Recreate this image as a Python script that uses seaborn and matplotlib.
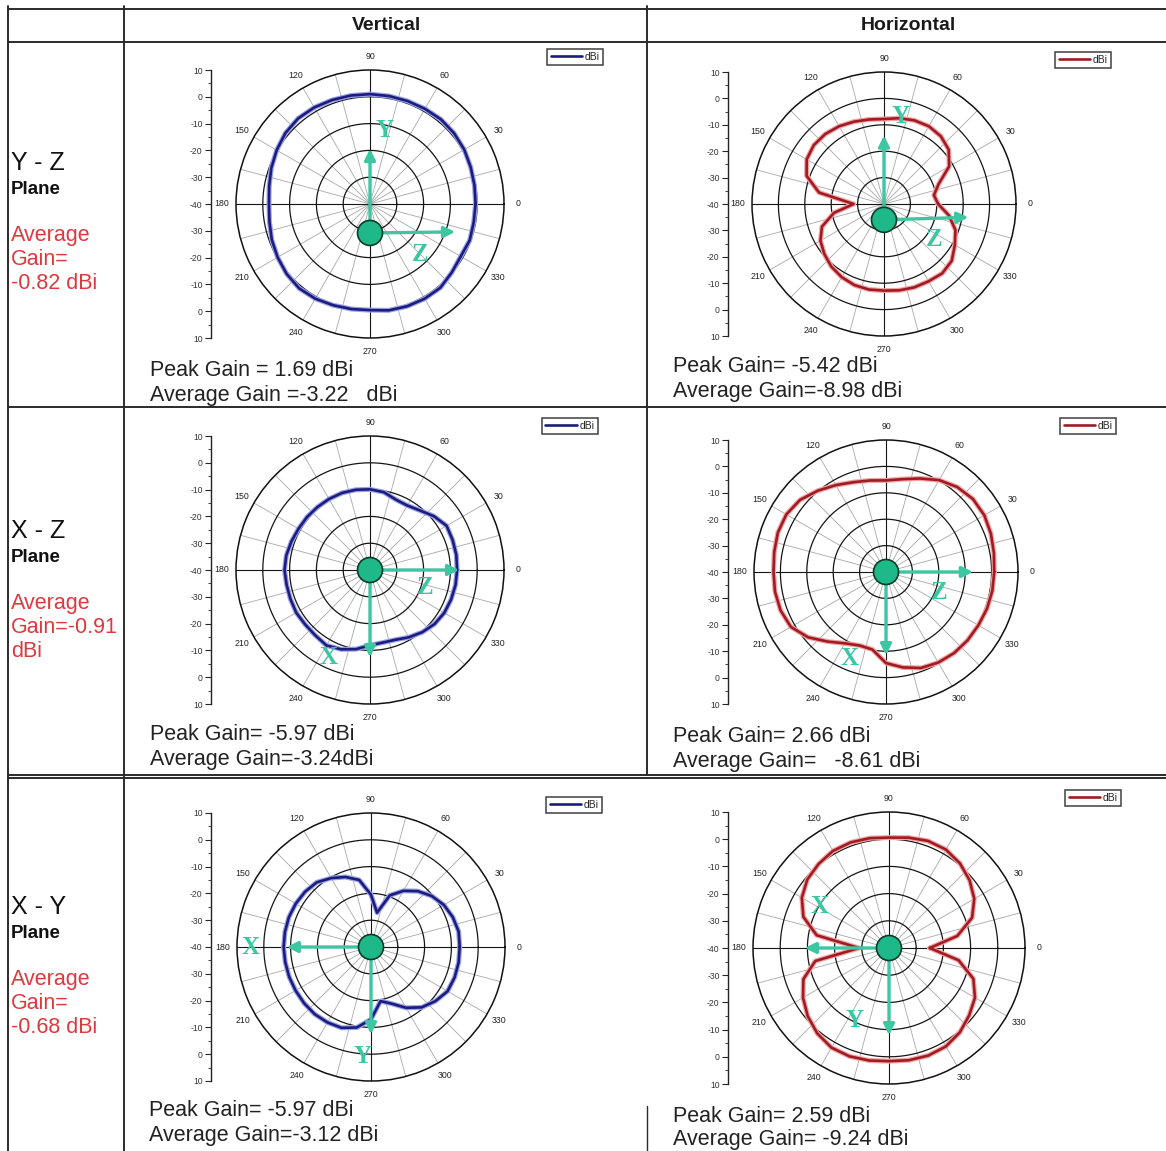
import numpy as np
import pandas as pd
import seaborn as sns
import matplotlib.pyplot as plt
from matplotlib.lines import Line2D
from matplotlib.patches import Circle

# measurement angles (deg), same grid for every pattern
angles = [0, 10, 20, 30, 40, 50, 60, 70, 80, 90, 100, 110,
          120, 130, 140, 150, 160, 170, 180, 190, 200, 210, 220, 230,
          240, 250, 260, 270, 280, 290, 300, 310, 320, 330, 340, 350]

# gain in dBi
yz_vertical = [-0.6, -0.4, 0.0, 0.6, 1.0, 1.2, 1.0, 0.9, 0.9, 1.0, 1.1, 1.3,
               1.6, 1.7, 1.2, 0.2, -0.8, -1.8, -2.3, -1.9, -1.0, -0.2, 0.6, 1.1,
               0.8, 0.2, -0.2, -0.4, 0.3, 0.6, 0.8, 0.8, -0.2, -0.9, -0.4, -0.7]
yz_horizontal = [-19.5, -20.8, -18.0, -11.5, -8.0, -6.5, -6.0, -6.3, -7.0, -7.8, -7.5, -6.8,
                 -6.0, -5.4, -5.3, -6.2, -8.8, -15.0, -28.5, -20.8, -15.0, -12.2, -10.5, -9.0,
                 -8.0, -7.3, -7.1, -7.2, -6.8, -6.4, -6.2, -5.7, -6.5, -9.0, -11.2, -15.0]
xz_vertical = [-7.5, -7.3, -7.2, -7.0, -8.8, -11.0, -12.2, -12.0, -10.5, -9.9, -9.6, -9.4,
               -9.4, -9.4, -9.3, -9.2, -8.8, -8.3, -8.1, -8.4, -8.4, -8.2, -8.4, -8.2,
               -7.5, -8.5, -10.0, -11.9, -12.5, -12.3, -11.0, -9.7, -8.6, -8.0, -7.8, -7.6]
xz_horizontal = [1.0, 1.5, 2.3, 3.0, 3.0, 2.0, 0.2, -2.3, -4.3, -5.3, -4.8, -3.8,
                 -2.0, 0.2, 2.5, 3.6, 3.6, 3.0, 2.6, 2.7, 2.5, 1.6, -1.5, -5.6,
                 -8.8, -10.4, -10.2, -5.5, -3.3, -1.3, -0.4, 0.1, 0.3, 0.4, 0.7, 0.9]
xy_vertical = [-6.9, -6.8, -7.5, -8.6, -10.4, -12.8, -15.8, -19.5, -27.0, -20.5, -14.6, -12.2,
               -10.3, -8.5, -7.9, -7.6, -7.4, -7.4, -7.4, -7.5, -7.5, -7.5, -7.4, -7.3,
               -7.5, -7.9, -9.5, -13.0, -19.5, -17.5, -13.8, -10.6, -8.6, -7.0, -6.8, -6.8]
xy_horizontal = [-25.0, -14.5, -7.5, -3.8, -1.3, 0.6, 1.8, 1.9, 1.2, 0.6, 1.0, 1.3,
                 1.2, 0.3, -0.8, -3.0, -6.5, -13.0, -29.0, -12.5, -6.5, -3.5, -1.0, 1.0,
                 2.3, 2.4, 2.0, 1.6, 1.9, 2.1, 1.8, 0.5, -1.5, -3.5, -7.0, -14.0]

column_titles = ["Vertical", "Horizontal"]
plane_names = ["Y - Z", "X - Z", "X - Y"]
plane_average = ["Average\nGain=\n-0.82 dBi", "Average\nGain=-0.91\ndBi", "Average\nGain=\n-0.68 dBi"]
peak_texts = ["Peak Gain = 1.69 dBi", "Peak Gain= -5.42 dBi",
              "Peak Gain= -5.97 dBi", "Peak Gain= 2.66 dBi",
              "Peak Gain= -5.97 dBi", "Peak Gain= 2.59 dBi"]
avg_texts = ["Average Gain =-3.22   dBi", "Average Gain=-8.98 dBi",
             "Average Gain=-3.24dBi", "Average Gain=   -8.61 dBi",
             "Average Gain=-3.12 dBi", "Average Gain= -9.24 dBi"]
angle_labels = ["0", "30", "60", "90", "120", "150", "180", "210", "240", "270", "300", "330"]

W, H = 1166, 1151
sns.set_theme(style="white")
plt.rcParams['font.family'] = ['Liberation Sans', 'DejaVu Sans']

fig = plt.figure(figsize=(W / 100, H / 100), dpi=100)
fig.patch.set_facecolor('white')


def fx(x):
    return x / W


def fy(y):
    return 1 - y / H


def seg(x0, y0, x1, y1, lw=1.4):
    fig.add_artist(Line2D([fx(x0), fx(x1)], [fy(y0), fy(y1)], color='#2b2b2b', lw=lw))


# table grid
seg(8, 9, W, 9)
seg(8, 42, W, 42)
seg(8, 407, W, 407)
seg(8, 775, W, 775)
seg(8, 778, W, 778)
seg(8, 6, 8, H)
seg(124, 6, 124, H)
seg(647, 6, 647, 775)
seg(647, 1106, 647, H, lw=1.0)

fig.text(fx(386), fy(25), column_titles[0], ha='center', va='center', fontsize=14, fontweight='bold', color='#1a1a1a')
fig.text(fx(908), fy(25), column_titles[1], ha='center', va='center', fontsize=14, fontweight='bold', color='#1a1a1a')

row_name_y = [163, 531, 907]
for i in range(3):
    y0 = row_name_y[i]
    fig.text(fx(11), fy(y0), plane_names[i], ha='left', va='center', fontsize=18, color='#111')
    fig.text(fx(11), fy(y0 + 27), "Plane", ha='left', va='center', fontsize=13.5, fontweight='bold', color='#111')
    fig.text(fx(11), fy(y0 + 75 - 13), plane_average[i], ha='left', va='top', fontsize=15.5,
             color='#dc3a3c', linespacing=1.18)

# per-plot layout: centre (px), radius (px), linear axis x, legend corner, text rows
patterns = [yz_vertical, yz_horizontal, xz_vertical, xz_horizontal, xy_vertical, xy_horizontal]
centres = [(370, 204), (884, 204), (370, 570), (886, 572), (371, 947), (889, 948)]
radii = [134, 132, 134, 132, 134, 136]
scale_x = [211, 728, 211, 728, 211, 728]
legend_corner = [(603, 49), (1111, 52), (598, 418), (1116, 418), (602, 797), (1121, 790)]
text_y = [(370, 395), (366, 392), (735, 760), (736, 762), (1110, 1136), (1117, 1139)]
text_x = [150, 673, 150, 673, 149, 673]

teal = '#3cc6a2'
# axes-fraction positions for the orientation sketch: dot, arrow tips, letters
sketch = [
    dict(dot=(0.5, 0.392), tips=[(0.5, 0.716), (0.828, 0.396)], letters=[('Y', 0.556, 0.776), ('Z', 0.687, 0.31)]),
    dict(dot=(0.5, 0.44), tips=[(0.5, 0.77), (0.83, 0.45)], letters=[('Y', 0.564, 0.83), ('Z', 0.69, 0.367)]),
    dict(dot=(0.5, 0.5), tips=[(0.843, 0.5), (0.5, 0.164)], letters=[('Z', 0.705, 0.433), ('X', 0.347, 0.172)]),
    dict(dot=(0.5, 0.5), tips=[(0.84, 0.5), (0.5, 0.174)], letters=[('Z', 0.70, 0.424), ('X', 0.36, 0.174)]),
    dict(dot=(0.5, 0.5), tips=[(0.175, 0.5), (0.5, 0.164)], letters=[('X', 0.049, 0.5), ('Y', 0.467, 0.09)]),
    dict(dot=(0.5, 0.5), tips=[(0.18, 0.5), (0.5, 0.169)], letters=[('X', 0.243, 0.654), ('Y', 0.375, 0.235)]),
]

ring = np.linspace(0, 2 * np.pi, 361)

for k in range(6):
    cx, cy = centres[k]
    R = radii[k]
    vertical = (k % 2 == 0)
    main_c = '#1c1c7e' if vertical else '#a01c24'
    halo_c = '#9aa2e6' if vertical else '#f3a3a3'

    ax = fig.add_axes([fx(cx - R), fy(cy + R), 2 * R / W, 2 * R / H], projection='polar')
    ax.set_facecolor('white')
    ax.set_theta_zero_location('E')
    ax.grid(False)

    # grid: spokes, rings, main cross
    for a in range(0, 360, 15):
        ax.plot([np.deg2rad(a)] * 2, [-40, 10], color='#a8a8a8', lw=0.6, zorder=1)
    for r in (-30, -20, -10, 0):
        ax.plot(ring, np.full_like(ring, r), color='#151515', lw=0.9, zorder=2)
    for a in (0, 90, 180, 270):
        ax.plot([np.deg2rad(a)] * 2, [-40, 10], color='#151515', lw=0.8, zorder=2)

    g = patterns[k]
    df = pd.DataFrame({'theta': np.deg2rad(angles + [360]), 'gain': g + [g[0]]})
    sns.lineplot(data=df, x='theta', y='gain', ax=ax, color=halo_c, lw=3.6, sort=False, zorder=3)
    sns.lineplot(data=df, x='theta', y='gain', ax=ax, color=main_c, lw=1.9, sort=False, zorder=4)
    ax.set_xlabel('')
    ax.set_ylabel('')
    ax.set_ylim(-40, 10)
    ax.set_yticks([])
    ax.set_xticks(np.deg2rad(np.arange(0, 360, 30)))
    ax.set_xticklabels(angle_labels, fontsize=6.3, color='#222')
    ax.tick_params(axis='x', pad=-3)
    ax.spines['polar'].set_color('#111')
    ax.spines['polar'].set_linewidth(1.1)

    leg = ax.legend(handles=[Line2D([], [], color=main_c, lw=1.9, label='dBi')],
                    loc='upper right', bbox_to_anchor=(fx(legend_corner[k][0]), fy(legend_corner[k][1])),
                    bbox_transform=fig.transFigure, frameon=True, fancybox=False, fontsize=7.5,
                    handlelength=3.0, handletextpad=0.3, borderpad=0.3, borderaxespad=0)
    leg.get_frame().set_edgecolor('#111')
    leg.get_frame().set_linewidth(1.1)

    # orientation sketch
    s = sketch[k]
    for tip in s['tips']:
        ax.annotate('', xy=tip, xytext=s['dot'], xycoords='axes fraction', textcoords='axes fraction',
                    arrowprops=dict(arrowstyle='-|>', color=teal, lw=2.4, mutation_scale=16),
                    annotation_clip=False, zorder=6)
    ax.add_patch(Circle(s['dot'], 12.5 / (2 * R), transform=ax.transAxes, facecolor='#1fb888',
                        edgecolor='#0d3b2b', lw=1.2, zorder=7, clip_on=False))
    for name, lx, ly in s['letters']:
        ax.text(lx, ly, name, transform=ax.transAxes, ha='center', va='center', fontsize=18,
                fontweight='bold', color=teal, family=['Liberation Serif', 'DejaVu Serif'], zorder=6)

    # linear dB scale on the left
    lax = fig.add_axes([fx(scale_x[k]), fy(cy + R), 0.002, 2 * R / H])
    lax.set_facecolor('none')
    lax.set_ylim(-50, 50)
    ticks = list(range(-50, 51, 10))
    lax.set_yticks(ticks)
    lax.set_yticklabels([str(abs(v) - 40) for v in ticks], fontsize=6.2, color='#333')
    lax.set_yticks(list(range(-45, 50, 10)), minor=True)
    lax.tick_params(axis='y', which='major', direction='out', length=4, width=0.8, pad=2, left=True)
    lax.tick_params(axis='y', which='minor', direction='out', length=2, width=0.6, left=True)
    lax.set_xticks([])
    for side in ('top', 'right', 'bottom'):
        lax.spines[side].set_visible(False)
    lax.spines['left'].set_color('#222')
    lax.spines['left'].set_linewidth(1.0)

    fig.text(fx(text_x[k]), fy(text_y[k][0]), peak_texts[k], ha='left', va='center', fontsize=15.5, color='#222')
    fig.text(fx(text_x[k]), fy(text_y[k][1]), avg_texts[k], ha='left', va='center', fontsize=15.5, color='#222')

fig.savefig('out.png', dpi=100, facecolor='white')
